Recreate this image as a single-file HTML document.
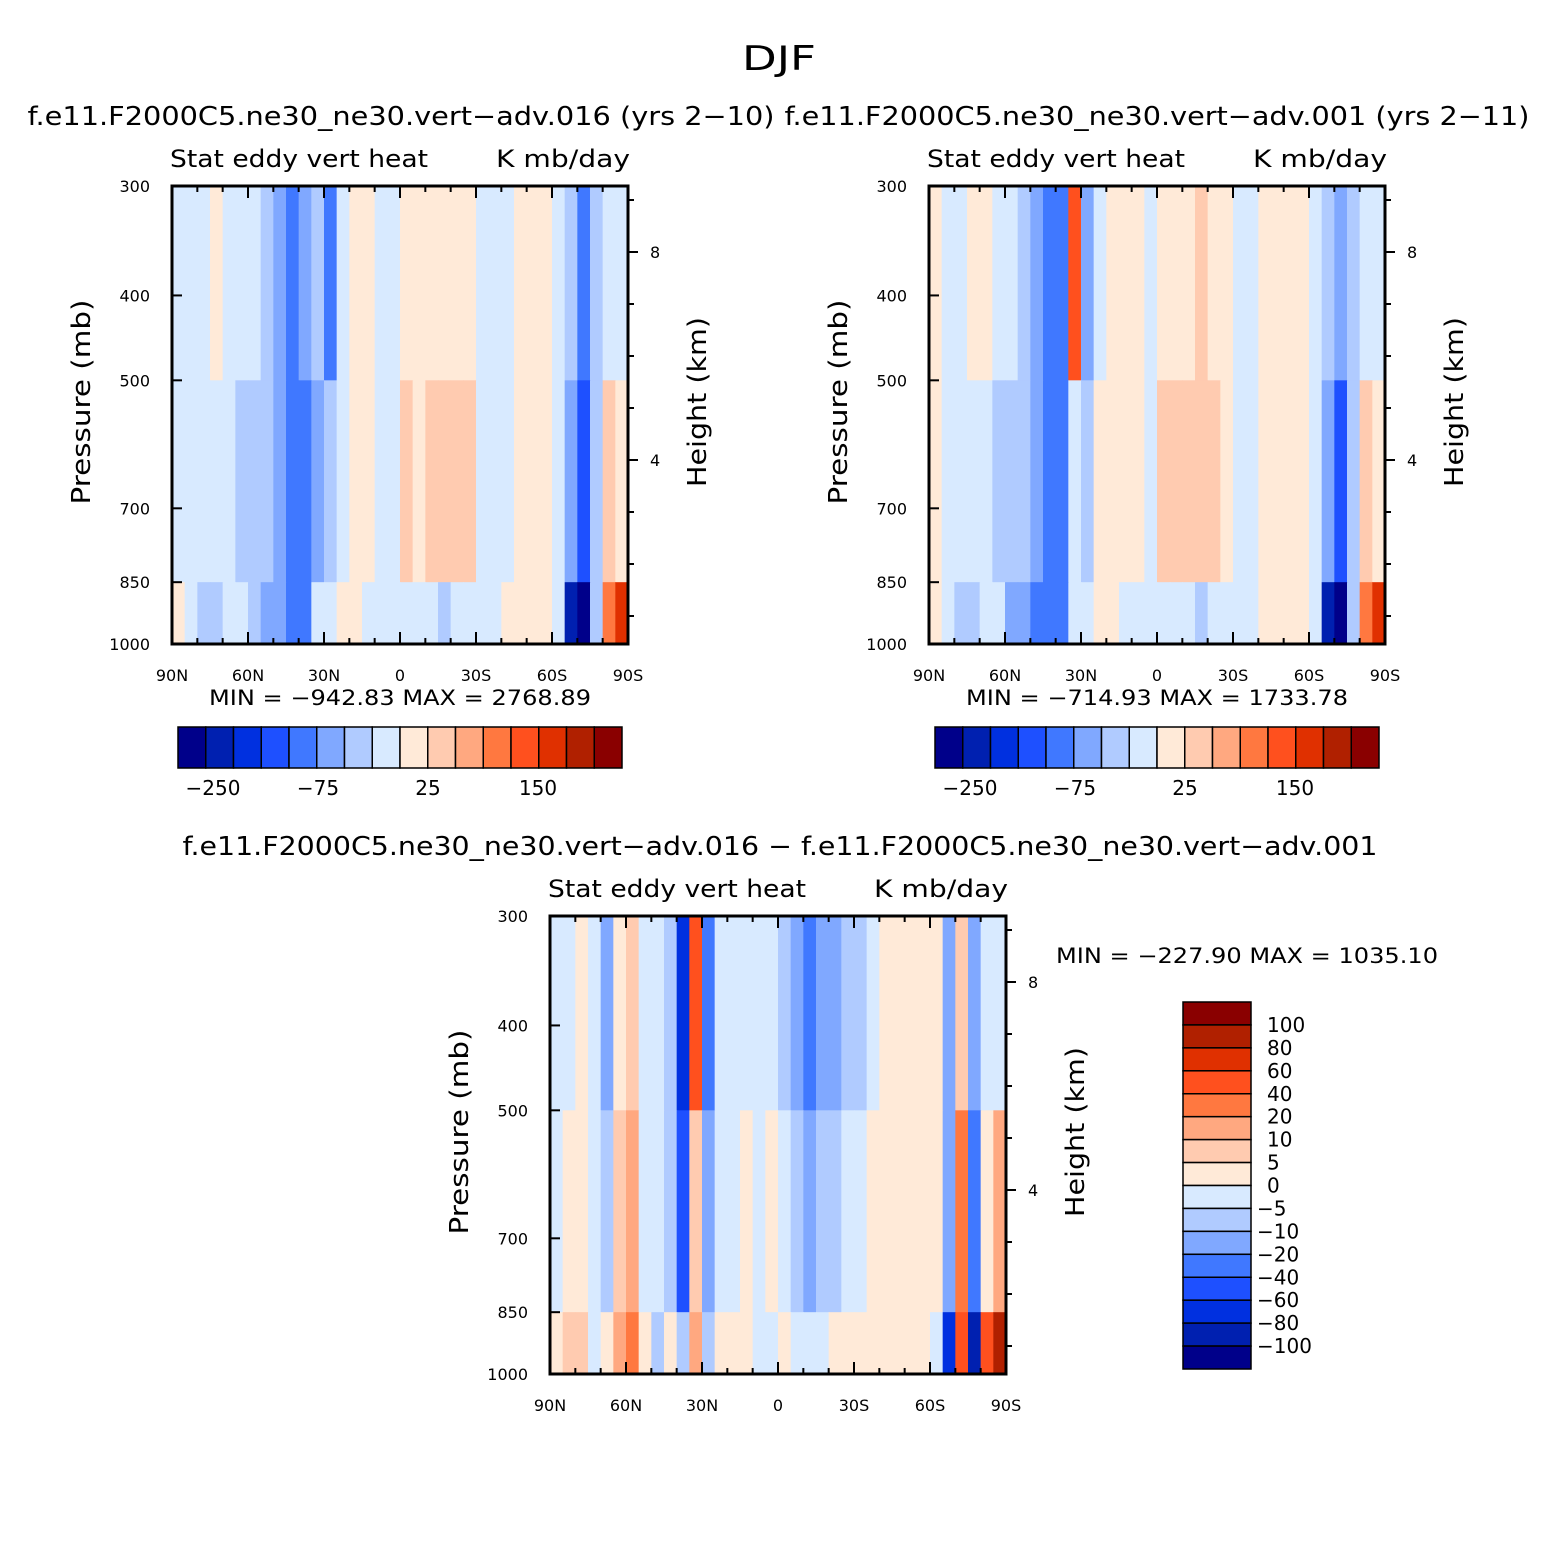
<!DOCTYPE html>
<html><head><meta charset="utf-8">
<style>
body{margin:0;background:#fff;}
svg{display:block;font-family:"DejaVu Sans","Liberation Sans",sans-serif;}
</style></head>
<body>
<svg id="fig" width="1558" height="1561" viewBox="0 0 1558 1561">
<text x="779" y="70" font-size="34" text-anchor="middle" textLength="74" lengthAdjust="spacingAndGlyphs">DJF</text>
</svg>
<script>
const palette = ["#00008a","#0020b0","#0030e0","#1e50ff","#4078ff","#80a8ff","#b0cbff","#d8eaff","#ffead8","#ffcbb0","#ffa880","#ff7840","#ff501e","#e03000","#b02000","#8a0000"];
const latEdges = [90,85,80,75,70,65,60,55,50,45,40,35,30,25,20,15,10,5,0,-5,-10,-15,-20,-25,-30,-35,-40,-45,-50,-55,-60,-65,-70,-75,-80,-85,-90];
const layerPressure = [300,500,850,1000];
const p1Top = [7,7,7,8,7,7,7,6,5,4,5,6,4,7,8,8,7,7,8,8,8,8,8,8,7,7,7,8,8,8,7,6,4,6,7,7];
const p1Mid = [7,7,7,7,7,6,6,6,5,4,4,5,6,7,8,8,7,7,9,8,9,9,9,9,7,7,7,8,8,8,7,5,3,6,9,8];
const p1Bot = [8,7,6,6,7,7,6,5,5,4,4,7,7,8,8,7,7,7,7,7,7,6,7,7,7,7,8,8,8,8,7,1,0,6,11,13];
const p2Top = [8,7,7,8,8,7,7,6,5,4,4,12,5,7,8,8,8,7,8,8,8,9,8,8,7,7,8,8,8,8,7,6,5,6,7,7];
const p2Mid = [8,7,7,7,7,6,6,6,5,4,4,7,6,8,8,8,8,7,9,9,9,9,9,8,7,7,8,8,8,8,7,5,3,6,9,8];
const p2Bot = [8,7,6,6,7,7,5,5,4,4,4,7,7,8,8,7,7,7,7,7,7,6,7,7,7,7,8,8,8,8,7,1,0,6,11,13];
const p3Top = [7,7,8,7,5,8,9,7,7,6,2,12,4,7,7,7,7,7,6,5,4,5,5,6,6,7,8,8,8,8,8,5,9,5,7,7];
const p3Mid = [7,8,8,7,6,9,10,7,7,6,3,9,5,7,7,8,7,8,7,6,5,6,6,7,7,8,8,8,8,8,8,5,11,4,8,10];
const p3Bot = [8,9,9,7,8,10,11,8,6,8,6,10,6,8,8,8,7,7,8,7,7,7,8,8,8,8,8,8,8,8,7,2,12,1,12,14];
const xTicks = [["90N",90],["60N",60],["30N",30],["0",0],["30S",-30],["60S",-60],["90S",-90]];
const pTicks = [300,400,500,700,850,1000];
const hTicks = [8,4];
const cbTopLabels = ["-250","-75","25","150"];
const cbBotLabels = ["100","80","60","40","20","10","5","0","-5","-10","-20","-40","-60","-80","-100"];

const NS="http://www.w3.org/2000/svg";
const svg=document.getElementById('fig');
function mk(tag,attrs,parent){const e=document.createElementNS(NS,tag);for(const k in attrs)e.setAttribute(k,attrs[k]);(parent||svg).appendChild(e);return e;}
function txt(x,y,s,size,anchor,parent,len){const t=mk('text',{x:x,y:y,'font-size':size,'text-anchor':anchor||'middle'},parent);if(len){t.setAttribute('textLength',len);t.setAttribute('lengthAdjust','spacingAndGlyphs');}t.textContent=s.replace(/-/g,'\u2212');return t;}

function panel(name,X0,Y0,title,layers){
  const W=456,H=458;
  const g=mk('g',{});
  
  
  const xs=lat=>X0+(90-lat)/180*W;
  const ys=p=>Y0+H-Math.log(1000/p)/Math.log(1000/300)*H;
  const hs=h=>Y0+482-52*h;
  for(let L=0;L<3;L++){
    for(let i=0;i<36;i++){
      const r=mk('rect',{x:xs(latEdges[i]),y:ys(layerPressure[L]),width:xs(latEdges[i+1])-xs(latEdges[i])+0.6,height:ys(layerPressure[L+1])-ys(layerPressure[L])+0.6,fill:palette[layers[L][i]]},g);
      
      
    }
  }
  mk('rect',{x:X0,y:Y0,width:W,height:H,fill:'none',stroke:'#000','stroke-width':3},g);
  for(let lat=90;lat>=-90;lat-=10){
    const major=lat%30===0;
    mk('line',{x1:xs(lat),x2:xs(lat),y1:Y0+H,y2:Y0+H+(major?-12:-6),stroke:'#000','stroke-width':2},g);
    mk('line',{x1:xs(lat),x2:xs(lat),y1:Y0,y2:Y0+(major?12:6),stroke:'#000','stroke-width':2},g);
  }
  xTicks.forEach(t=>{txt(xs(t[1]),Y0+H+37,t[0],16,'middle',g);});
  pTicks.forEach(p=>{
    mk('line',{x1:X0,x2:X0+10,y1:ys(p),y2:ys(p),stroke:'#000','stroke-width':2},g);
    txt(X0-22,ys(p)+6,String(p),16,'end',g);
  });
  for(let h=1;h<=9;h++){const y=hs(h);if(y<Y0||y>Y0+H)continue;mk('line',{x1:X0+W,x2:X0+W+6,y1:y,y2:y,stroke:'#000','stroke-width':2},g);}
  hTicks.forEach(h=>{mk('line',{x1:X0+W,x2:X0+W+10,y1:hs(h),y2:hs(h),stroke:'#000','stroke-width':2},g);txt(X0+W+22,hs(h)+6,String(h),16,'start',g);});
  const yl=txt(0,0,'Pressure (mb)',26,'middle',g,205);yl.setAttribute('transform',`translate(${X0-82},${Y0+H/2-13}) rotate(-90)`);
  const hl=txt(0,0,'Height (km)',26,'middle',g,170);hl.setAttribute('transform',`translate(${X0+W+78},${Y0+H/2-13}) rotate(-90)`);
  txt(X0-2,Y0-19,'Stat eddy vert heat',24,'start',g,258);
  txt(X0+W+2,Y0-19,'K mb/day',24,'end',g,134);
  return g;
}
panel('panel-case1',172,186,'',[p1Top,p1Mid,p1Bot]);
panel('panel-case2',929,186,'',[p2Top,p2Mid,p2Bot]);
panel('panel-diff',550,916,'',[p3Top,p3Mid,p3Bot]);

txt(401,125,'f.e11.F2000C5.ne30_ne30.vert-adv.016 (yrs 2-10)',26,'middle',null,747);
txt(1157,125,'f.e11.F2000C5.ne30_ne30.vert-adv.001 (yrs 2-11)',26,'middle',null,745);
txt(780,855,'f.e11.F2000C5.ne30_ne30.vert-adv.016 - f.e11.F2000C5.ne30_ne30.vert-adv.001',26,'middle',null,1195);

txt(400,705,'MIN = -942.83   MAX = 2768.89',21,'middle',null,382).setAttribute('xml:space','preserve');
txt(1157,705,'MIN = -714.93   MAX = 1733.78',21,'middle',null,382).setAttribute('xml:space','preserve');
txt(1247,963,'MIN = -227.90   MAX = 1035.10',21,'middle',null,382).setAttribute('xml:space','preserve');

function hbar(name,X0){
  const g=mk('g',{});
  
  
  const w=444/16;
  palette.forEach((c,i)=>{mk('rect',{x:X0+i*w,y:727,width:w,height:41,fill:c,stroke:'#000','stroke-width':1.5},g);});
  const pos=[35,140,250,360];
  cbTopLabels.forEach((l,i)=>txt(X0+pos[i],795,l,20,'middle',g));
}
hbar('colorbar-case1',178);
hbar('colorbar-case2',935);
(function(){
  const g=mk('g',{});
  
  
  const h=367/16;
  palette.slice().reverse().forEach((c,i)=>{mk('rect',{x:1183,y:1002+i*h,width:68,height:h,fill:c,stroke:'#000','stroke-width':1.5},g);});
  cbBotLabels.forEach((l,i)=>{const neg=l[0]==='-';txt(neg?1257:1267,1002+(i+1)*h+7,l,20,'start',g);});
})();
</script>
</body></html>
